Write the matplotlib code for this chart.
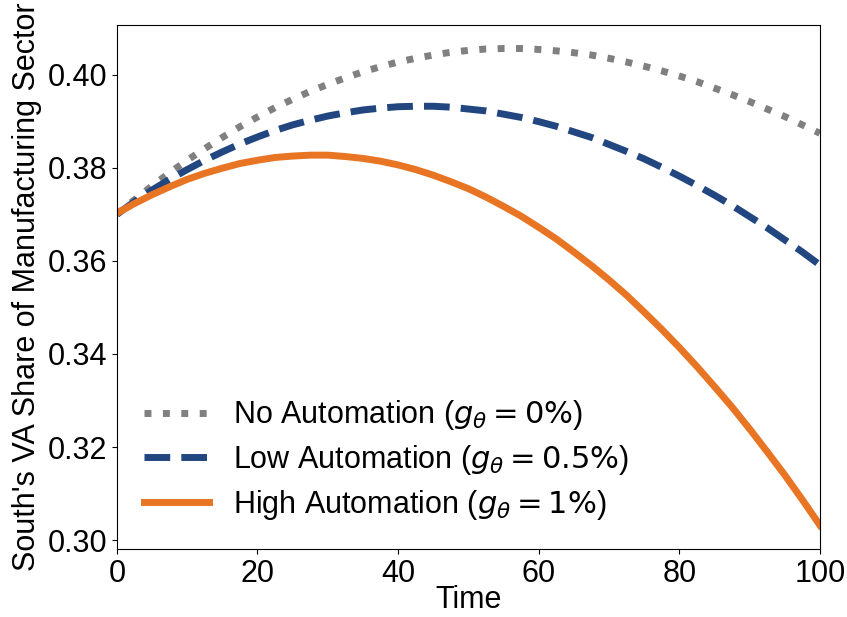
import numpy as np
import matplotlib.pyplot as plt

plt.rcParams['font.family'] = ['Liberation Sans', 'DejaVu Sans']

# simulated paths, one value every 2.5 periods
time = np.arange(0, 100.1, 2.5)
share_none = [0.3700, 0.3731, 0.3761, 0.3789, 0.3816, 0.3841, 0.3865, 0.3888,
              0.3909, 0.3929, 0.3947, 0.3964, 0.3979, 0.3993, 0.4006, 0.4017,
              0.4027, 0.4035, 0.4042, 0.4048, 0.4052, 0.4055, 0.4056, 0.4056,
              0.4054, 0.4051, 0.4047, 0.4042, 0.4035, 0.4027, 0.4018, 0.4008,
              0.3997, 0.3985, 0.3971, 0.3957, 0.3942, 0.3926, 0.3910, 0.3892,
              0.3874]
share_low = [0.3700, 0.3727, 0.3752, 0.3775, 0.3796, 0.3816, 0.3834, 0.3851,
             0.3866, 0.3880, 0.3892, 0.3902, 0.3911, 0.3918, 0.3924, 0.3928,
             0.3931, 0.3932, 0.3932, 0.3930, 0.3926, 0.3922, 0.3915, 0.3908,
             0.3899, 0.3889, 0.3877, 0.3865, 0.3850, 0.3835, 0.3819, 0.3801,
             0.3782, 0.3762, 0.3741, 0.3719, 0.3695, 0.3671, 0.3645, 0.3619,
             0.3591]
share_high = [0.3702, 0.3723, 0.3742, 0.3759, 0.3775, 0.3788, 0.3799, 0.3809,
              0.3816, 0.3822, 0.3825, 0.3827, 0.3827, 0.3824, 0.3820, 0.3814,
              0.3806, 0.3796, 0.3784, 0.3770, 0.3755, 0.3737, 0.3717, 0.3696,
              0.3672, 0.3647, 0.3619, 0.3590, 0.3559, 0.3526, 0.3490, 0.3453,
              0.3414, 0.3373, 0.3330, 0.3286, 0.3239, 0.3190, 0.3140, 0.3087,
              0.3032]

labels = [r'No Automation ($g_\theta = 0\%$)',
          r'Low Automation ($g_\theta = 0.5\%$)',
          r'High Automation ($g_\theta = 1\%$)']

fig = plt.figure(figsize=(8.47, 6.17), dpi=100)
ax = fig.add_axes([0.138, 0.110, 0.830, 0.850])

ax.plot(time, share_none, ':', color='#808080', lw=5, label=labels[0])
ax.plot(time, share_low, '--', color='#22467f', lw=5, label=labels[1])
ax.plot(time, share_high, '-', color='#e87524', lw=5, label=labels[2])

ax.set_xlim(0, 100)
ax.set_xticks(np.arange(0, 101, 20))
ax.set_yticks(np.arange(0.30, 0.401, 0.02))
ax.set_yticklabels(['%.2f' % v for v in np.arange(0.30, 0.401, 0.02)])
ax.tick_params(labelsize=22)
ax.set_xlabel('Time', fontsize=22, labelpad=-3)
ax.set_ylabel("South's VA Share of Manufacturing Sector", fontsize=22, labelpad=4)

ax.legend(loc='lower left', fontsize=22, frameon=False, handlelength=2.1,
          handletextpad=0.8, labelspacing=0.35)

fig.savefig('out.png', dpi=100)
